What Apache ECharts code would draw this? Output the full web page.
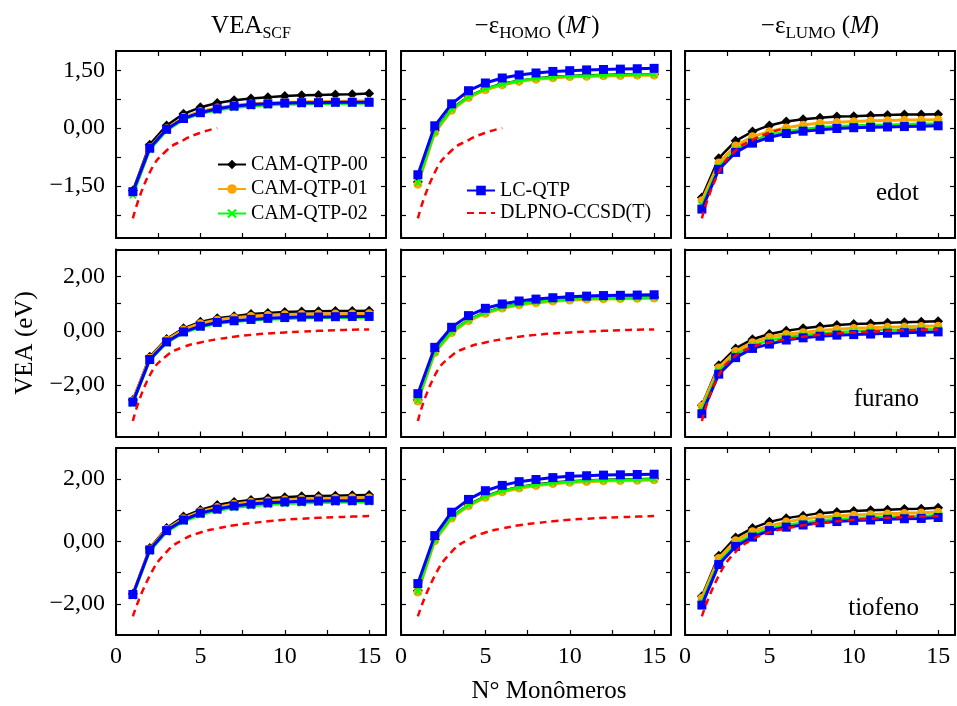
<!DOCTYPE html>
<html><head><meta charset="utf-8">
<script src="https://cdn.jsdelivr.net/npm/echarts@6/dist/echarts.min.js"></script>
<style>html,body{margin:0;padding:0;background:#fff}#c{width:957px;height:706px}</style>
</head><body><div id="c"></div>
<script>
// ---------- categories / ticks ----------
const monomers = [1,2,3,4,5,6,7,8,9,10,11,12,13,14,15];
const monomersDlpnoEdot = [1,2,3,4,5,6];
const seriesNames = ['CAM-QTP-00','CAM-QTP-01','CAM-QTP-02','LC-QTP','DLPNO-CCSD(T)'];
const molecules = ['edot','furano','tiofeno'];
const xTicks = [0,2.5,5,7.5,10,12.5,15];
const xLabels = [0,5,10,15];
const yTicksEdot = [-2.25,-1.5,-0.75,0,0.75,1.5];
const yLabelsEdot = [-1.5,0,1.5];
const yTicksFurano = [-3,-2,-1,0,1,2];
const yLabelsFurano = [-2,0,2];
const yTicksTiofeno = [-2,-1,0,1,2];
const yLabelsTiofeno = [-2,0,2];
const yRangeEdot = [-2.85,2.0];
const yRangeFurano = [-3.9,3.0];
const yRangeTiofeno = [-3,3];

// ---------- edot ----------
const edot_vea_cam00 = [-1.62,-0.43,0.07,0.37,0.54,0.65,0.72,0.77,0.80,0.83,0.85,0.86,0.87,0.88,0.90];
const edot_vea_cam01 = [-1.66,-0.50,-0.01,0.28,0.43,0.53,0.59,0.63,0.65,0.67,0.68,0.69,0.69,0.70,0.70];
const edot_vea_cam02 = [-1.74,-0.56,-0.07,0.22,0.37,0.46,0.53,0.57,0.59,0.61,0.62,0.63,0.63,0.64,0.64];
const edot_vea_lcqtp = [-1.65,-0.52,-0.03,0.25,0.40,0.50,0.57,0.61,0.63,0.65,0.66,0.66,0.67,0.67,0.67];
const edot_homo_cam00 = [-1.40,-0.07,0.50,0.82,1.02,1.15,1.23,1.29,1.33,1.35,1.37,1.38,1.39,1.39,1.40];
const edot_homo_cam01 = [-1.46,-0.12,0.46,0.79,0.99,1.12,1.21,1.27,1.30,1.33,1.34,1.35,1.36,1.37,1.37];
const edot_homo_cam02 = [-1.42,-0.09,0.49,0.81,1.02,1.14,1.23,1.29,1.32,1.35,1.36,1.37,1.38,1.39,1.39];
const edot_homo_lcqtp = [-1.21,0.06,0.63,0.97,1.17,1.30,1.38,1.43,1.47,1.49,1.51,1.52,1.53,1.54,1.55];
const edot_lumo_cam00 = [-1.80,-0.78,-0.33,-0.09,0.07,0.17,0.23,0.27,0.30,0.31,0.33,0.34,0.35,0.35,0.36];
const edot_lumo_cam01 = [-1.88,-0.90,-0.46,-0.22,-0.09,0.01,0.08,0.13,0.15,0.17,0.19,0.20,0.21,0.21,0.22];
const edot_lumo_cam02 = [-2.00,-1.00,-0.56,-0.32,-0.18,-0.08,-0.02,0.02,0.05,0.07,0.08,0.09,0.10,0.11,0.11];
const edot_lumo_lcqtp = [-2.10,-1.07,-0.63,-0.39,-0.24,-0.14,-0.08,-0.04,-0.01,0.01,0.02,0.03,0.04,0.05,0.06];
const edot_dlpno = [-2.34,-1.15,-0.58,-0.31,-0.12,0.00];

// ---------- furano ----------
const furano_vea_cam00 = [-2.55,-0.96,-0.30,0.09,0.33,0.46,0.54,0.62,0.66,0.69,0.71,0.72,0.73,0.73,0.74];
const furano_vea_cam01 = [-2.58,-1.00,-0.34,0.04,0.27,0.40,0.48,0.54,0.57,0.60,0.61,0.62,0.63,0.63,0.64];
const furano_vea_cam02 = [-2.68,-1.10,-0.45,-0.08,0.13,0.26,0.33,0.38,0.42,0.44,0.46,0.47,0.48,0.48,0.49];
const furano_vea_lcqtp = [-2.63,-1.06,-0.41,-0.04,0.17,0.31,0.37,0.42,0.46,0.49,0.51,0.51,0.52,0.53,0.53];
const furano_homo_cam00 = [-2.55,-0.77,-0.03,0.41,0.68,0.87,0.99,1.07,1.13,1.17,1.20,1.21,1.22,1.23,1.24];
const furano_homo_cam01 = [-2.60,-0.81,-0.07,0.37,0.64,0.83,0.95,1.03,1.09,1.13,1.16,1.17,1.18,1.19,1.20];
const furano_homo_cam02 = [-2.57,-0.78,-0.04,0.40,0.67,0.86,0.98,1.06,1.12,1.16,1.19,1.20,1.21,1.22,1.23];
const furano_homo_lcqtp = [-2.32,-0.61,0.13,0.56,0.83,0.99,1.10,1.17,1.22,1.26,1.28,1.30,1.31,1.32,1.33];
const furano_lumo_cam00 = [-2.75,-1.27,-0.65,-0.31,-0.12,0.00,0.09,0.16,0.21,0.25,0.27,0.30,0.32,0.33,0.35];
const furano_lumo_cam01 = [-2.77,-1.36,-0.75,-0.43,-0.24,-0.13,-0.06,0.01,0.06,0.09,0.11,0.14,0.15,0.17,0.18];
const furano_lumo_cam02 = [-2.92,-1.48,-0.87,-0.54,-0.36,-0.24,-0.16,-0.10,-0.05,-0.02,0.01,0.03,0.04,0.05,0.06];
const furano_lumo_lcqtp = [-3.06,-1.60,-0.99,-0.65,-0.49,-0.34,-0.26,-0.20,-0.16,-0.14,-0.12,-0.09,-0.07,-0.05,-0.04];
const furano_dlpno = [-3.33,-1.65,-0.92,-0.60,-0.43,-0.31,-0.22,-0.15,-0.10,-0.06,-0.03,0.00,0.02,0.04,0.05];

// ---------- tiofeno ----------
const tiofeno_vea_cam00 = [-1.68,-0.21,0.43,0.80,1.01,1.17,1.27,1.33,1.39,1.42,1.45,1.46,1.47,1.48,1.49];
const tiofeno_vea_cam01 = [-1.69,-0.24,0.39,0.74,0.96,1.10,1.20,1.27,1.31,1.34,1.36,1.38,1.39,1.40,1.40];
const tiofeno_vea_cam02 = [-1.75,-0.31,0.30,0.64,0.85,0.99,1.08,1.14,1.18,1.21,1.23,1.24,1.25,1.26,1.26];
const tiofeno_vea_lcqtp = [-1.70,-0.27,0.35,0.69,0.91,1.04,1.14,1.20,1.24,1.27,1.29,1.30,1.31,1.31,1.32];
const tiofeno_homo_cam00 = [-1.58,0.06,0.79,1.18,1.45,1.63,1.75,1.83,1.89,1.93,1.96,1.98,1.99,2.00,2.01];
const tiofeno_homo_cam01 = [-1.63,0.02,0.75,1.14,1.41,1.59,1.71,1.79,1.85,1.89,1.92,1.94,1.95,1.96,1.97];
const tiofeno_homo_cam02 = [-1.60,0.05,0.78,1.17,1.44,1.62,1.74,1.82,1.88,1.92,1.95,1.97,1.98,1.99,2.00];
const tiofeno_homo_lcqtp = [-1.35,0.19,0.94,1.35,1.63,1.80,1.92,1.99,2.05,2.09,2.11,2.13,2.14,2.15,2.16];
const tiofeno_lumo_cam00 = [-1.76,-0.46,0.13,0.43,0.63,0.75,0.83,0.91,0.95,0.98,1.00,1.02,1.04,1.05,1.08];
const tiofeno_lumo_cam01 = [-1.81,-0.54,0.03,0.32,0.50,0.63,0.72,0.78,0.82,0.85,0.87,0.89,0.91,0.92,0.95];
const tiofeno_lumo_cam02 = [-1.94,-0.66,-0.08,0.22,0.41,0.53,0.61,0.67,0.72,0.75,0.77,0.79,0.81,0.82,0.84];
const tiofeno_lumo_lcqtp = [-2.04,-0.74,-0.16,0.14,0.35,0.46,0.53,0.60,0.64,0.67,0.69,0.71,0.73,0.74,0.77];
const tiofeno_dlpno = [-2.40,-1.10,-0.33,0.07,0.29,0.42,0.52,0.59,0.65,0.70,0.73,0.76,0.78,0.80,0.82];

// ---------- assemble panels ----------
const rowsDef = [
  {ticks: yTicksEdot, labels: yLabelsEdot, range: yRangeEdot, dlpno: edot_dlpno, dlpnoX: monomersDlpnoEdot,
   cols: [[edot_vea_cam00,edot_vea_cam01,edot_vea_cam02,edot_vea_lcqtp],
          [edot_homo_cam00,edot_homo_cam01,edot_homo_cam02,edot_homo_lcqtp],
          [edot_lumo_cam00,edot_lumo_cam01,edot_lumo_cam02,edot_lumo_lcqtp]]},
  {ticks: yTicksFurano, labels: yLabelsFurano, range: yRangeFurano, dlpno: furano_dlpno, dlpnoX: monomers,
   cols: [[furano_vea_cam00,furano_vea_cam01,furano_vea_cam02,furano_vea_lcqtp],
          [furano_homo_cam00,furano_homo_cam01,furano_homo_cam02,furano_homo_lcqtp],
          [furano_lumo_cam00,furano_lumo_cam01,furano_lumo_cam02,furano_lumo_lcqtp]]},
  {ticks: yTicksTiofeno, labels: yLabelsTiofeno, range: yRangeTiofeno, dlpno: tiofeno_dlpno, dlpnoX: monomers,
   cols: [[tiofeno_vea_cam00,tiofeno_vea_cam01,tiofeno_vea_cam02,tiofeno_vea_lcqtp],
          [tiofeno_homo_cam00,tiofeno_homo_cam01,tiofeno_homo_cam02,tiofeno_homo_lcqtp],
          [tiofeno_lumo_cam00,tiofeno_lumo_cam01,tiofeno_lumo_cam02,tiofeno_lumo_lcqtp]]}
];

// ---------- layout & style ----------
const FONT = 'Liberation Serif';
const colLeft = [116, 401, 685];
const rowTop = [51, 249.5, 448];
const plotW = 270, plotH = 187;
const crossPath = 'path://M0,1.5L1.5,0L5,3.5L8.5,0L10,1.5L6.5,5L10,8.5L8.5,10L5,6.5L1.5,10L0,8.5L3.5,5Z';
const styles = [
  {color:'#000000', symbol:'diamond', size:10, width:2.5},
  {color:'#FFA500', symbol:'circle', size:8.5, width:3},
  {color:'#00FF00', symbol:crossPath, size:7.5, width:2.5},
  {color:'#0000FF', symbol:'rect', size:9, width:3},
  {color:'#FF0000', symbol:'none', size:0, width:2.5, dashed:true}
];
function fmtY(v){ const s = Math.abs(v).toFixed(2).replace('.', ','); return v < -1e-9 ? '\u2212' + s : s; }

const grids = [], xAxes = [], yAxes = [], series = [];
const axisLineStyle = {show:true, onZero:false, lineStyle:{color:'#000', width:2}};
for (let r = 0; r < 3; r++) {
  for (let c = 0; c < 3; c++) {
    const g = r*3 + c;
    grids.push({left: colLeft[c], top: rowTop[r], width: plotW, height: plotH, containLabel:false});
    ['bottom','top'].forEach((pos, k) => {
      xAxes.push({type:'value', gridIndex:g, position:pos, min:0, max:16,
        axisLine: axisLineStyle,
        axisTick:{show:true, inside:true, length:5, customValues:xTicks, lineStyle:{color:'#000', width:1.2}},
        axisLabel:{show: (k===0 && r===2), customValues:xLabels, margin:10, color:'#000', fontFamily:FONT, fontSize:24, formatter: v => String(v)},
        splitLine:{show:false}});
    });
    const rd = rowsDef[r];
    ['left','right'].forEach((pos, k) => {
      yAxes.push({type:'value', gridIndex:g, position:pos, min:rd.range[0], max:rd.range[1],
        axisLine: axisLineStyle,
        axisTick:{show:true, inside:true, length:5, customValues:rd.ticks, lineStyle:{color:'#000', width:1.2}},
        axisLabel:{show: (k===0 && c===0), customValues:rd.labels, margin:11, color:'#000', fontFamily:FONT, fontSize:24, formatter: fmtY},
        splitLine:{show:false}});
    });
    const lists = rd.cols[c].concat([rd.dlpno]);
    lists.forEach((ys, s) => {
      const st = styles[s];
      const xs = s === 4 ? rd.dlpnoX : monomers;
      series.push({
        type:'line', name: seriesNames[s], xAxisIndex: 2*g, yAxisIndex: 2*g,
        data: xs.map((x, i) => [x, ys[i]]),
        symbol: st.symbol, symbolSize: st.size, showSymbol: s !== 4,
        smooth: s === 4 ? 0.5 : false,
        itemStyle:{color: st.color},
        lineStyle:{color: st.color, width: st.width, type: st.dashed ? [7,5] : 'solid'},
        emphasis:{disabled:true}, z: 2 + s
      });
    });
  }
}

const legendText = {fontFamily:FONT, fontSize:20, color:'#000'};
const option = {
  animation:false,
  backgroundColor:'#fff',
  grid: grids, xAxis: xAxes, yAxis: yAxes, series: series,
  legend: [
    {data: seriesNames.slice(0,3), orient:'vertical', left:212, top:149.5, itemWidth:28, itemHeight:12, itemGap:4.5,
     selectedMode:false, textStyle:legendText},
    {data: [seriesNames[3], {name: seriesNames[4], itemStyle:{opacity:0}}], orient:'vertical', left:461, top:175.5, itemWidth:28, itemHeight:12, itemGap:2.5,
     selectedMode:false, textStyle:legendText}
  ],
  graphic: [
    {type:'text', x:251, y:26, style:{text:'{m|VEA}{s|SCF}', align:'center', verticalAlign:'middle', fill:'#000',
      rich:{m:{fontFamily:FONT, fontSize:25, lineHeight:32}, s:{fontFamily:FONT, fontSize:16, lineHeight:16, verticalAlign:'bottom'}}}},
    {type:'text', x:537, y:26, style:{text:'{m|\u2212\u03b5}{s|HOMO}{m| (}{i|M}{p|-}{m|)}', align:'center', verticalAlign:'middle', fill:'#000',
      rich:{m:{fontFamily:FONT, fontSize:25, lineHeight:32}, s:{fontFamily:FONT, fontSize:17, lineHeight:17, verticalAlign:'bottom'},
            i:{fontFamily:FONT, fontSize:25, lineHeight:32, fontStyle:'italic'}, p:{fontFamily:FONT, fontSize:14, lineHeight:14, verticalAlign:'top'}}}},
    {type:'text', x:820, y:26, style:{text:'{m|\u2212\u03b5}{s|LUMO}{m| (}{i|M}{m|)}', align:'center', verticalAlign:'middle', fill:'#000',
      rich:{m:{fontFamily:FONT, fontSize:25, lineHeight:32}, s:{fontFamily:FONT, fontSize:17, lineHeight:17, verticalAlign:'bottom'},
            i:{fontFamily:FONT, fontSize:25, lineHeight:32, fontStyle:'italic'}}}},
    {type:'text', x:25, y:343, rotation:Math.PI/2, style:{text:'VEA (eV)', fontFamily:FONT, fontSize:25, fill:'#000', align:'center', verticalAlign:'middle'}},
    {type:'text', x:549, y:691, style:{text:'N\u00b0 Mon\u00f4meros', fontFamily:FONT, fontSize:25, fill:'#000', align:'center', verticalAlign:'middle'}},
    {type:'text', x:919, y:193, style:{text:molecules[0], fontFamily:FONT, fontSize:25, fill:'#000', align:'right', verticalAlign:'middle'}},
    {type:'text', x:919, y:399, style:{text:molecules[1], fontFamily:FONT, fontSize:25, fill:'#000', align:'right', verticalAlign:'middle'}},
    {type:'text', x:919, y:608, style:{text:molecules[2], fontFamily:FONT, fontSize:25, fill:'#000', align:'right', verticalAlign:'middle'}}
  ]
};
const chart = echarts.init(document.getElementById('c'), null, {renderer:'canvas'});
chart.setOption(option);
</script></body></html>
